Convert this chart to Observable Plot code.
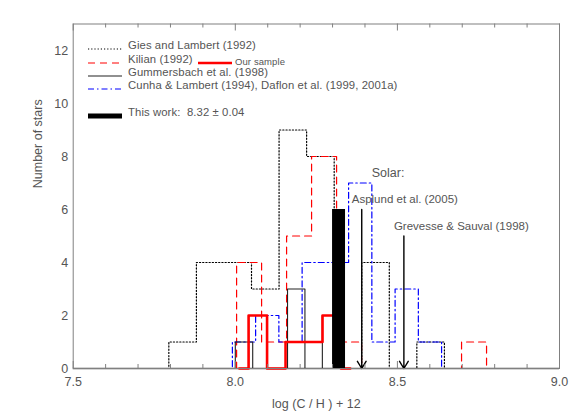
<!DOCTYPE html>
<html><head><meta charset="utf-8">
<script src="https://cdn.jsdelivr.net/npm/d3@7"></script>
<script src="https://cdn.jsdelivr.net/npm/@observablehq/plot@0.6"></script>
<style>
body{margin:0;background:#fff;}
#wrap{position:relative;width:581px;height:415px;font-family:"Liberation Sans",Arial,sans-serif;}
#legend{position:absolute;left:0;top:0;pointer-events:none;}
#legend text{white-space:pre;}
</style></head><body><div id="wrap"></div>
<script>
// ---- data ----
const giesStart = 7.795, giesWidth = 0.085;
const giesCounts = [1, 4, 4, 3, 9, 8, 0, 4, 0, 1];
const kilianStart = 8.004, kilianWidth = 0.0771;
const kilianCounts = [4, 1, 5, 8, 1, 0, 0, 0, 0, 1];
const sampleStart = 8.041, sampleWidth = 0.057;
const sampleCounts = [2, 0, 1, 1, 2];
const gummStart = 8.0, gummWidth = 0.0537;
const gummCounts = [1, 0, 0, 3, 0, 2];
const cunhaStart = 7.991, cunhaWidth = 0.0717;
const cunhaCounts = [1, 2, 1, 4, 4, 7, 1, 3, 1];
const thisWorkValue = 8.32, thisWorkHalfWidth = 0.02, thisWorkCount = 6;
const solarNames = ["Asplund et al. (2005)", "Grevesse & Sauval (1998)"];
const solarValues = [8.39, 8.52];
const solarArrowTops = [6, 5];
const xMajorTicks = [7.5, 8.0, 8.5, 9.0];
const xTickLabels = ["7.5", "8.0", "8.5", "9.0"];
const xMinorTicks = [7.6, 7.7, 7.8, 7.9, 8.1, 8.2, 8.3, 8.4, 8.6, 8.7, 8.8, 8.9];
const yTicks = [0, 2, 4, 6, 8, 10, 12];
const xTitle = "log (C / H ) + 12";
const yTitle = "Number of stars";
const legendLabels = ["Gies and Lambert (1992)", "Kilian (1992)", "Gummersbach et al. (1998)",
  "Cunha & Lambert (1994), Daflon et al. (1999, 2001a)", "This work:  8.32 \u00b1 0.04"];
const sampleLabel = "Our sample";

function steps(start, w, counts) {
  const pts = [{x: start - w / 2, y: 0}];
  counts.forEach((c, i) => pts.push({x: start + i * w, y: c}));
  pts.push({x: start + counts.length * w, y: 0});
  pts.push({x: start + (counts.length + 0.5) * w, y: 0});
  return pts;
}
const solar = solarNames.map((n, i) => ({name: n, v: solarValues[i], top: solarArrowTops[i]}));

const axisGrey = "#808080";
const textGrey = "#555";
const yMax = 13;

const chart = Plot.plot({
  width: 581, height: 415,
  marginLeft: 72.7, marginRight: 22, marginTop: 23.5, marginBottom: 47,
  style: {fontFamily: "Liberation Sans, Arial, sans-serif", fontSize: "12px", color: textGrey, background: "white"},
  x: {domain: [7.5, 9.0]},
  y: {domain: [0, yMax]},
  marks: [
    Plot.ruleY([0], {stroke: "#aaa", strokeWidth: 2}),
    Plot.line(steps(giesStart, giesWidth, giesCounts), {x: "x", y: "y", curve: "step-after", stroke: "black", strokeWidth: 1.2, strokeDasharray: "1.2,2"}),
    Plot.line(steps(kilianStart, kilianWidth, kilianCounts), {x: "x", y: "y", curve: "step-after", stroke: "#ff0000", strokeWidth: 1.2, strokeDasharray: "7,5"}),
    Plot.line(steps(cunhaStart, cunhaWidth, cunhaCounts), {x: "x", y: "y", curve: "step-after", stroke: "#0000ff", strokeWidth: 1.2, strokeDasharray: "6,3,1.5,3"}),
    Plot.line(steps(gummStart, gummWidth, gummCounts), {x: "x", y: "y", curve: "step-after", stroke: "#222", strokeWidth: 1.1}),
    Plot.line(steps(sampleStart, sampleWidth, sampleCounts), {x: "x", y: "y", curve: "step-after", stroke: "#ff0000", strokeWidth: 2.6}),
    Plot.rect([{v: thisWorkValue, c: thisWorkCount}], {x1: d => d.v - thisWorkHalfWidth, x2: d => d.v + thisWorkHalfWidth, y1: 0, y2: "c", fill: "black"}),
    Plot.arrow(solar, {x1: "v", x2: "v", y1: "top", y2: 0, stroke: "black", strokeWidth: 1.4, headLength: 9, headAngle: 62}),
    Plot.text(solar, {x: "v", y: "top", text: "name", textAnchor: "start", dx: -10, dy: -10, fill: textGrey, fontSize: 11.5, letterSpacing: 0.3}),
    Plot.text([solar[0]], {x: "v", y: "top", text: () => "Solar:", textAnchor: "start", dx: 10, dy: -37, fill: textGrey, fontSize: 12.5, letterSpacing: 0.5}),
    Plot.frame({stroke: axisGrey}),
    // inward ticks, bottom and top
    Plot.ruleX(xMinorTicks, {y1: 0, y2: 0, insetBottom: 4, stroke: axisGrey}),
    Plot.ruleX(xMajorTicks, {y1: 0, y2: 0, insetBottom: 7, stroke: axisGrey}),
    Plot.ruleX(xMinorTicks, {y1: yMax, y2: yMax, insetBottom: -4, stroke: axisGrey}),
    Plot.ruleX(xMajorTicks, {y1: yMax, y2: yMax, insetBottom: -7, stroke: axisGrey}),
    Plot.axisX(xMajorTicks, {anchor: "bottom", tickSize: 0, tickPadding: 9, tickFormat: (d, i) => xTickLabels[i], fill: textGrey, fontSize: 12.5, label: null}),
    Plot.axisY(yTicks, {anchor: "left", tickSize: 0, tickPadding: 5, fill: textGrey, fontSize: 12.5, label: null}),
    Plot.text([xTitle], {frameAnchor: "bottom", dy: 39, text: d => d, fill: textGrey, fontSize: 12.5, letterSpacing: 0.4}),
    Plot.text([yTitle], {frameAnchor: "left", dx: -35, dy: -8, rotate: -90, text: d => d, fill: textGrey, fontSize: 12.5, letterSpacing: 0.4})
  ]
});
const wrap = document.getElementById("wrap");
wrap.appendChild(chart);

// legend overlay
const ns = "http://www.w3.org/2000/svg";
const leg = document.createElementNS(ns, "svg");
leg.setAttribute("id", "legend");
leg.setAttribute("width", 581); leg.setAttribute("height", 140);
const rows = [
  {y: 49, stroke: "black", w: 1.2, dash: "1.2,2"},
  {y: 63, stroke: "#ff0000", w: 1.2, dash: "7,5"},
  {y: 76, stroke: "#222", w: 1.1, dash: null},
  {y: 89, stroke: "#0000ff", w: 1.2, dash: "6,3,1.5,3"},
  {y: 116, stroke: "black", w: 5, dash: null}
];
function addLine(x1, x2, y, stroke, w, dash) {
  const l = document.createElementNS(ns, "line");
  l.setAttribute("x1", x1); l.setAttribute("x2", x2);
  l.setAttribute("y1", y); l.setAttribute("y2", y);
  l.setAttribute("stroke", stroke); l.setAttribute("stroke-width", w);
  if (dash) l.setAttribute("stroke-dasharray", dash);
  leg.appendChild(l);
}
function addText(x, y, s, size) {
  const t = document.createElementNS(ns, "text");
  t.setAttribute("x", x); t.setAttribute("y", y);
  t.setAttribute("fill", textGrey); t.setAttribute("font-size", size);
  t.setAttribute("font-family", "Liberation Sans, Arial, sans-serif");
  t.setAttribute("letter-spacing", "0.1");
  t.setAttribute("dominant-baseline", "middle");
  t.setAttribute("xml:space", "preserve");
  t.textContent = s;
  leg.appendChild(t);
}
rows.forEach((r, i) => {
  addLine(88, 122, r.y, r.stroke, r.w, r.dash);
  addText(128, r.y - 2.5, legendLabels[i], 11.3);
});
addLine(198, 232, 63, "#ff0000", 2.6, null);
addText(235, 62, sampleLabel, 9.5);
wrap.appendChild(leg);
</script></body></html>
